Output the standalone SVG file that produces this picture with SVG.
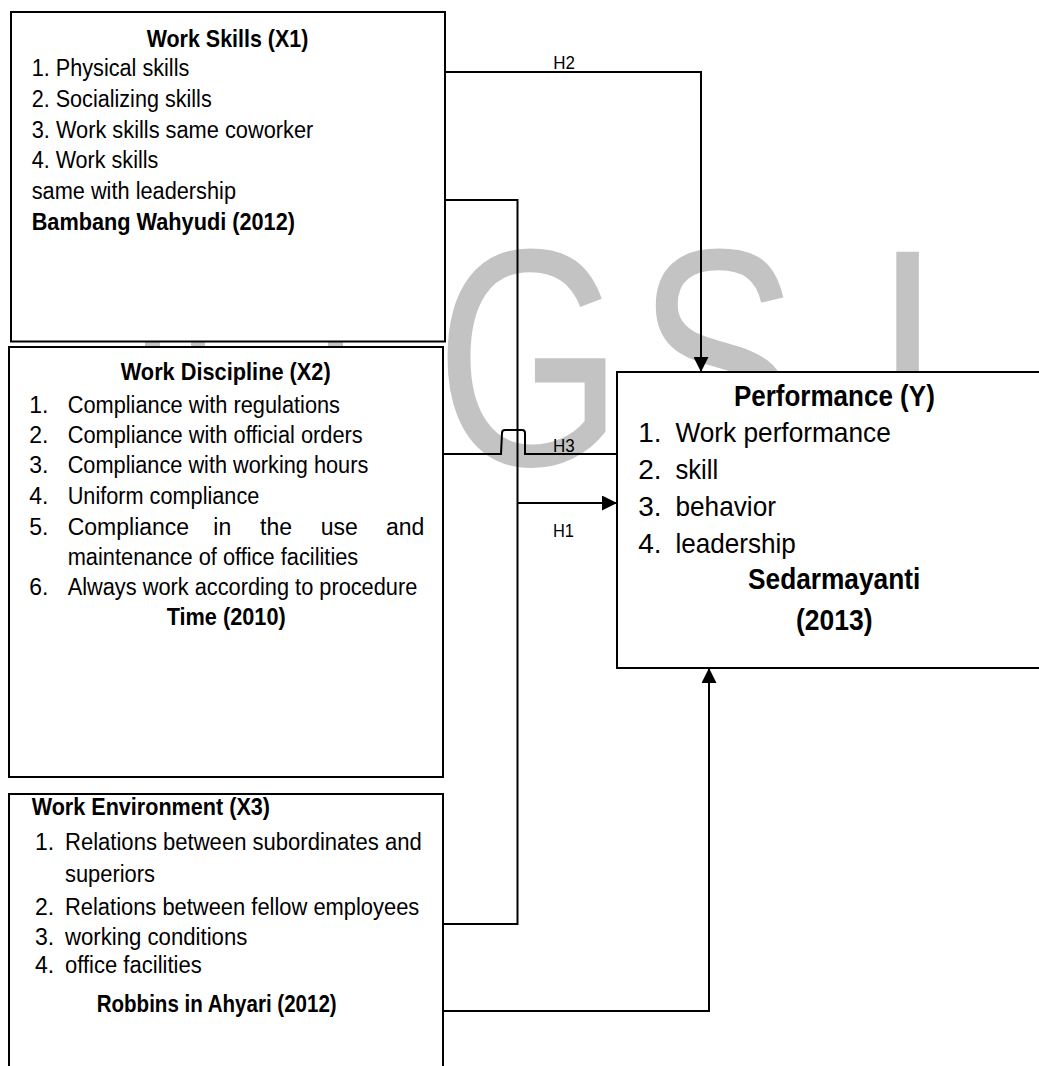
<svg xmlns="http://www.w3.org/2000/svg" width="1039" height="1066" viewBox="0 0 1039 1066">
<style>
text{font-family:"Liberation Sans",Arial,sans-serif;fill:#000}
.t{font-size:23px}
.b{font-size:24px;font-weight:bold}
.p{font-size:28px}
.pb{font-size:29px;font-weight:bold}
.h{font-size:19px}
.wm{font-size:310px;fill:#c3c3c3}
.wr{fill:#c3c3c3}
.box{fill:#fff;stroke:#000;stroke-width:2}
.ln{fill:none;stroke:#000;stroke-width:2}
</style>
<defs>
<marker id="arr" markerUnits="userSpaceOnUse" markerWidth="15" markerHeight="15" refX="15" refY="7.5" orient="auto">
<path d="M0,0 L15,7.5 L0,15 z" fill="#000"/>
</marker>
</defs>
<rect width="1039" height="1066" fill="#fff"/>
<g id="watermark">
<rect class="wr" x="145" y="340" width="15" height="8"/>
<rect class="wr" x="191" y="340" width="14" height="8"/>
<rect class="wr" x="328" y="340" width="15" height="8"/>
<text class="wm" transform="translate(435.4,465) scale(0.78,1)" x="0" y="0">G</text>
<text class="wm" transform="translate(637,465) scale(0.78,1)" x="0" y="0">S</text>
<text class="wm" transform="translate(874,465) scale(0.78,1)" x="0" y="0">I</text>
</g>
<g id="connectors">
<path class="ln" d="M445,72 H701 V372" marker-end="url(#arr)"/>
<path class="ln" d="M445,200 H517.5 V924 H443"/>
<path class="ln" d="M517.5,503 H617" marker-end="url(#arr)"/>
<path class="ln" d="M443,454 H501 L502,433 Q502,430 505,430 H522 Q525,430 525,433 V454 H617"/>
<path class="ln" d="M443,1011 H709 V668" marker-end="url(#arr)"/>
<text class="h" x="553.3" y="69" textLength="21.7" lengthAdjust="spacingAndGlyphs">H2</text>
<text class="h" x="553" y="451.7" textLength="21.7" lengthAdjust="spacingAndGlyphs">H3</text>
<text class="h" x="553" y="536.7" textLength="21" lengthAdjust="spacingAndGlyphs">H1</text>
</g>
<g id="x1">
<rect class="box" x="11" y="12" width="434" height="329.5"/>
<text class="b" x="146.7" y="46.5" textLength="161.6" lengthAdjust="spacingAndGlyphs">Work Skills (X1)</text>
<text class="t" x="31.7" y="76" textLength="157.6" lengthAdjust="spacingAndGlyphs">1. Physical skills</text>
<text class="t" x="31.7" y="106.7" textLength="180" lengthAdjust="spacingAndGlyphs">2. Socializing skills</text>
<text class="t" x="31.7" y="137.7" textLength="281.6" lengthAdjust="spacingAndGlyphs">3. Work skills same coworker</text>
<text class="t" x="31.7" y="168.3" textLength="126.6" lengthAdjust="spacingAndGlyphs">4. Work skills</text>
<text class="t" x="31.7" y="199" textLength="204.3" lengthAdjust="spacingAndGlyphs">same with leadership</text>
<text class="b" x="31.7" y="230" textLength="263.3" lengthAdjust="spacingAndGlyphs">Bambang Wahyudi (2012)</text>
</g>
<g id="x2">
<rect class="box" x="9" y="347" width="434" height="430"/>
<text class="b" x="120.7" y="380" textLength="210" lengthAdjust="spacingAndGlyphs">Work Discipline (X2)</text>
<text class="t" x="29.3" y="412.7">1.</text>
<text class="t" x="67.7" y="412.7" textLength="272.3" lengthAdjust="spacingAndGlyphs">Compliance with regulations</text>
<text class="t" x="29.3" y="443.3">2.</text>
<text class="t" x="67.7" y="443.3" textLength="295" lengthAdjust="spacingAndGlyphs">Compliance with official orders</text>
<text class="t" x="29.3" y="473.3">3.</text>
<text class="t" x="67.7" y="473.3" textLength="300.6" lengthAdjust="spacingAndGlyphs">Compliance with working hours</text>
<text class="t" x="29.3" y="504">4.</text>
<text class="t" x="67.7" y="504" textLength="191.6" lengthAdjust="spacingAndGlyphs">Uniform compliance</text>
<text class="t" x="29.3" y="535">5.</text>
<text class="t" y="535"><tspan x="67.7">Compliance</tspan><tspan x="213.3">in</tspan><tspan x="260">the</tspan><tspan x="320.7">use</tspan><tspan x="386">and</tspan></text>
<text class="t" x="67.7" y="565" textLength="290.6" lengthAdjust="spacingAndGlyphs">maintenance of office facilities</text>
<text class="t" x="29.3" y="595">6.</text>
<text class="t" x="67.7" y="595" textLength="349.6" lengthAdjust="spacingAndGlyphs">Always work according to procedure</text>
<text class="b" x="166.7" y="625" textLength="119" lengthAdjust="spacingAndGlyphs">Time (2010)</text>
</g>
<g id="x3">
<rect class="box" x="9" y="794" width="434" height="290"/>
<text class="b" x="31.7" y="815" textLength="238.3" lengthAdjust="spacingAndGlyphs">Work Environment (X3)</text>
<text class="t" x="35" y="850">1.</text>
<text class="t" x="65" y="850" textLength="356.7" lengthAdjust="spacingAndGlyphs">Relations between subordinates and</text>
<text class="t" x="65" y="881.7" textLength="90" lengthAdjust="spacingAndGlyphs">superiors</text>
<text class="t" x="35" y="915">2.</text>
<text class="t" x="65" y="915" textLength="354.3" lengthAdjust="spacingAndGlyphs">Relations between fellow employees</text>
<text class="t" x="35" y="945">3.</text>
<text class="t" x="65" y="945" textLength="182.3" lengthAdjust="spacingAndGlyphs">working conditions</text>
<text class="t" x="35" y="973.3">4.</text>
<text class="t" x="65" y="973.3" textLength="136.7" lengthAdjust="spacingAndGlyphs">office facilities</text>
<text class="b" x="96.7" y="1011.7" textLength="240" lengthAdjust="spacingAndGlyphs">Robbins in Ahyari (2012)</text>
</g>
<g id="y">
<rect class="box" x="617" y="372" width="440" height="296"/>
<text class="pb" x="733.9" y="406" textLength="200.9" lengthAdjust="spacingAndGlyphs">Performance (Y)</text>
<text class="p" x="638.2" y="441.7">1.</text>
<text class="p" x="675.4" y="441.7" textLength="215.4" lengthAdjust="spacingAndGlyphs">Work performance</text>
<text class="p" x="638.2" y="479">2.</text>
<text class="p" x="675.4" y="479" textLength="42.8" lengthAdjust="spacingAndGlyphs">skill</text>
<text class="p" x="638.2" y="515.7">3.</text>
<text class="p" x="675.4" y="515.7" textLength="100.6" lengthAdjust="spacingAndGlyphs">behavior</text>
<text class="p" x="638.2" y="552.7">4.</text>
<text class="p" x="675.4" y="552.7" textLength="120.5" lengthAdjust="spacingAndGlyphs">leadership</text>
<text class="pb" x="748" y="589.3" textLength="172.3" lengthAdjust="spacingAndGlyphs">Sedarmayanti</text>
<text class="pb" x="795.9" y="630" textLength="76.6" lengthAdjust="spacingAndGlyphs">(2013)</text>
</g>
</svg>
